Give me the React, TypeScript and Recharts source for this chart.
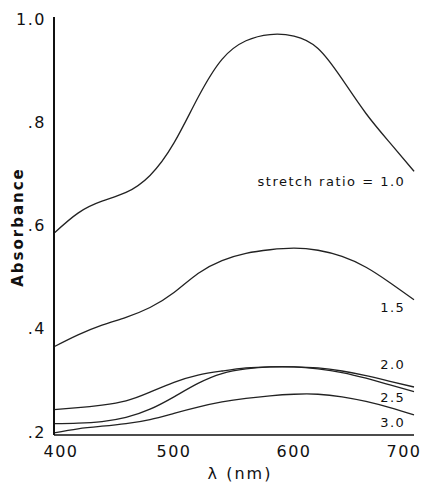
import { LineChart, Line, XAxis, YAxis, ReferenceDot } from 'recharts'

const WAVELENGTHS = [400, 420, 440, 460, 480, 500, 520, 540, 560, 580, 600, 620, 640, 660, 680, 700]

const RATIO_1_0 = [0.585, 0.624, 0.647, 0.664, 0.697, 0.76, 0.848, 0.922, 0.958, 0.97, 0.967, 0.943, 0.884, 0.817, 0.76, 0.705]
const RATIO_1_5 = [0.365, 0.388, 0.407, 0.422, 0.441, 0.47, 0.507, 0.532, 0.546, 0.553, 0.556, 0.552, 0.54, 0.519, 0.489, 0.456]
const RATIO_2_0 = [0.243, 0.247, 0.252, 0.26, 0.277, 0.296, 0.31, 0.318, 0.324, 0.326, 0.326, 0.324, 0.318, 0.309, 0.298, 0.287]
const RATIO_2_5 = [0.216, 0.217, 0.22, 0.228, 0.244, 0.268, 0.294, 0.313, 0.322, 0.326, 0.326, 0.322, 0.315, 0.304, 0.291, 0.278]
const RATIO_3_0 = [0.198, 0.206, 0.211, 0.216, 0.224, 0.236, 0.248, 0.258, 0.265, 0.27, 0.273, 0.273, 0.268, 0.259, 0.247, 0.233]

const X_TICKS = [400, 500, 600, 700]
const Y_TICKS = [0.2, 0.4, 0.6, 0.8, 1.0]

// curve labels: text, value where it sits at the right edge
const CURVE_LABELS: [string, number][] = [
  ['stretch ratio = 1.0', 0.685],
  ['1.5', 0.441],
  ['2.0', 0.33],
  ['2.5', 0.266],
  ['3.0', 0.219],
]

const SERIES = [
  { key: 'r10', values: RATIO_1_0 },
  { key: 'r15', values: RATIO_1_5 },
  { key: 'r20', values: RATIO_2_0 },
  { key: 'r25', values: RATIO_2_5 },
  { key: 'r30', values: RATIO_3_0 },
]

const data = WAVELENGTHS.map((w, i) => {
  const row: Record<string, number> = { w }
  SERIES.forEach((s) => { row[s.key] = s.values[i] })
  return row
})

const FONT = '"DejaVu Sans", sans-serif'
const tickStyle = { fill: '#111', fontSize: 16, fontFamily: FONT, letterSpacing: 1.5 }

const fmtY = (v: number) => (v === 1 ? '1.0' : v.toFixed(1).replace(/^0/, ''))

// first and last x labels nudged inward like the original print
function XTick(props: any) {
  const { x, y, payload } = props
  const v = payload.value
  const dx = v === 400 ? 7 : v === 700 ? -8 : 0
  return (
    <text x={x + dx} y={y} dy={14} textAnchor="middle" {...tickStyle}>
      {v}
    </text>
  )
}

export default function App() {
  return (
    <div style={{ position: 'absolute', left: 0, top: 0, width: 424, height: 483, background: '#fff' }}>
      <LineChart width={424} height={483} data={data} margin={{ top: 17, right: 10, left: 0, bottom: 0 }}>
        <XAxis
          dataKey="w"
          type="number"
          domain={[400, 700]}
          ticks={X_TICKS}
          tickLine={false}
          tick={<XTick />}
          tickMargin={2}
          height={48}
          axisLine={{ stroke: '#111', strokeWidth: 1.5 }}
        />
        <XAxis xAxisId="top" orientation="top" dataKey="w" type="number" domain={[400, 700]} tick={false} tickLine={false} height={0} axisLine={{ stroke: '#111', strokeWidth: 1.5 }} />
        <YAxis
          type="number"
          domain={[0.194, 1.004]}
          ticks={Y_TICKS}
          tickFormatter={fmtY}
          tickLine={false}
          tick={tickStyle}
          tickMargin={2}
          width={54}
          allowDataOverflow
          axisLine={{ stroke: '#111', strokeWidth: 2 }}
        />
        <YAxis yAxisId="right" orientation="right" type="number" domain={[0.194, 1.004]} tick={false} tickLine={false} width={0} axisLine={{ stroke: '#111', strokeWidth: 1.5 }} />
        {SERIES.map((s) => (
          <Line
            key={s.key}
            type="natural"
            dataKey={s.key}
            stroke="#222"
            strokeWidth={1.3}
            dot={false}
            isAnimationActive={false}
          />
        ))}
        {CURVE_LABELS.map(([text, v]) => (
          <ReferenceDot
            key={text}
            x={697}
            y={v}
            r={0}
            ifOverflow="visible"
            label={{ value: text, position: 'left', fill: '#111', fontSize: 13, fontFamily: FONT, letterSpacing: 1.5 }}
          />
        ))}
      </LineChart>
      <div
        style={{
          position: 'absolute', left: 18, top: 227, transform: 'translate(-50%, -50%) rotate(-90deg)',
          fontFamily: FONT, fontWeight: 'bold', fontSize: 15, letterSpacing: 2, whiteSpace: 'nowrap', color: '#111',
        }}
      >
        Absorbance
      </div>
      <div
        style={{
          position: 'absolute', left: 240, top: 473, transform: 'translate(-50%, -50%)',
          fontFamily: FONT, fontSize: 16, letterSpacing: 2, whiteSpace: 'nowrap', color: '#111',
        }}
      >
        λ (nm)
      </div>
    </div>
  )
}
